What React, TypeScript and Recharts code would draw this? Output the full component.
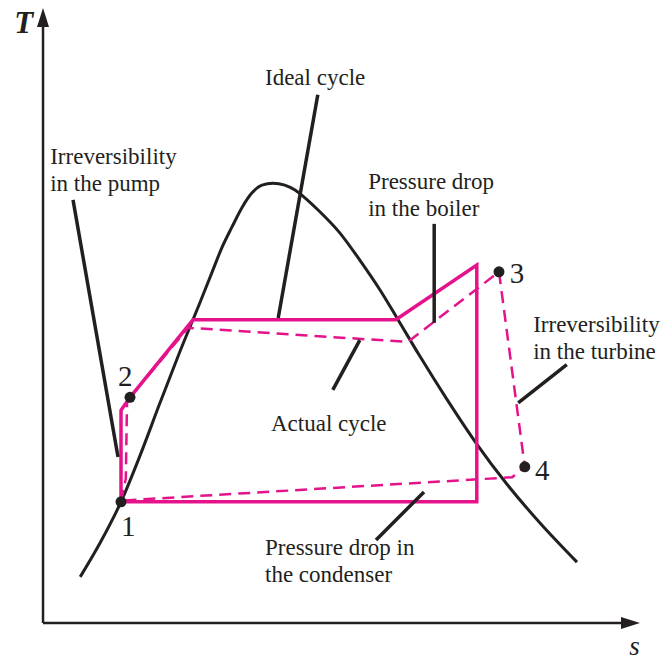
import { ComposedChart, Line, Scatter, XAxis, YAxis } from "recharts";

const PINK = "#e5138b";
const INK = "#231f20";
const SERIF = "'Liberation Serif', 'Times New Roman', serif";

type Pt = { s: number; T: number };

// whole svg is the plot area, so the domain runs a little past the drawn axes
const S_DOMAIN: [number, number] = [-0.717, 10.317];
const T_DOMAIN: [number, number] = [-0.618, 10.13];

// saturation dome
const domeCurve: Pt[] = [
  { s: 0.62, T: 0.75 },
  { s: 0.95, T: 1.3 },
  { s: 1.3, T: 1.97 },
  { s: 1.62, T: 2.73 },
  { s: 1.95, T: 3.58 },
  { s: 2.28, T: 4.41 },
  { s: 2.62, T: 5.22 },
  { s: 2.82, T: 5.71 },
  { s: 2.98, T: 6.1 },
  { s: 3.15, T: 6.44 },
  { s: 3.32, T: 6.76 },
  { s: 3.48, T: 6.99 },
  { s: 3.65, T: 7.12 },
  { s: 3.83, T: 7.15 },
  { s: 4.03, T: 7.12 },
  { s: 4.2, T: 7.04 },
  { s: 4.37, T: 6.91 },
  { s: 4.58, T: 6.72 },
  { s: 4.95, T: 6.34 },
  { s: 5.28, T: 5.9 },
  { s: 5.62, T: 5.41 },
  { s: 5.9, T: 4.96 },
  { s: 6.28, T: 4.34 },
  { s: 6.73, T: 3.64 },
  { s: 7.23, T: 2.91 },
  { s: 7.73, T: 2.26 },
  { s: 8.28, T: 1.63 },
  { s: 8.9, T: 0.99 },
];

const idealCycle: Pt[] = [
  { s: 1.3, T: 1.97 },
  { s: 1.3, T: 3.46 },
  { s: 1.45, T: 3.67 },
  { s: 2.5, T: 4.93 },
  { s: 5.88, T: 4.93 },
  { s: 7.23, T: 5.82 },
  { s: 7.23, T: 1.97 },
  { s: 1.3, T: 1.97 },
];

const actualCycle: Pt[] = [
  { s: 1.3, T: 1.97 },
  { s: 1.38, T: 2.35 },
  { s: 1.4, T: 3.58 },
  { s: 1.45, T: 3.67 },
  { s: 2.42, T: 4.8 },
  { s: 6.08, T: 4.57 },
  { s: 7.6, T: 5.71 },
  { s: 8.03, T: 2.54 },
  { s: 7.82, T: 2.37 },
  { s: 1.3, T: 1.99 },
];

const statePoints = [
  { s: 1.3, T: 1.97, name: "1" },
  { s: 1.45, T: 3.67, name: "2" },
  { s: 7.6, T: 5.71, name: "3" },
  { s: 8.03, T: 2.54, name: "4" },
];

const stateLabels = [
  { s: 1.3, T: 1.42, text: "1" },
  { s: 1.25, T: 3.85, text: "2" },
  { s: 7.78, T: 5.53, text: "3" },
  { s: 8.2, T: 2.33, text: "4" },
];

const leaders: Pt[][] = [
  [{ s: 4.58, T: 8.59 }, { s: 3.92, T: 4.96 }],
  [{ s: 0.5, T: 6.88 }, { s: 1.25, T: 2.7 }],
  [{ s: 6.52, T: 6.49 }, { s: 6.52, T: 4.88 }],
  [{ s: 4.83, T: 3.79 }, { s: 5.28, T: 4.6 }],
  [{ s: 8.73, T: 4.2 }, { s: 7.92, T: 3.58 }],
  [{ s: 5.55, T: 1.35 }, { s: 6.35, T: 2.13 }],
];

const notes = [
  { s: 3.7, T: 8.75, lines: ["Ideal cycle"] },
  { s: 0.12, T: 7.46, lines: ["Irreversibility", "in the pump"] },
  { s: 5.42, T: 7.06, lines: ["Pressure drop", "in the boiler"] },
  { s: 3.8, T: 3.12, lines: ["Actual cycle"] },
  { s: 8.17, T: 4.73, lines: ["Irreversibility", "in the turbine"] },
  { s: 3.7, T: 1.11, lines: ["Pressure drop in", "the condenser"] },
];

const sAxisLine: Pt[] = [{ s: 0, T: 0 }, { s: 9.7, T: 0 }];
const tAxisLine: Pt[] = [{ s: 0, T: 0 }, { s: 0, T: 9.7 }];
const sArrow = [{ s: 9.95, T: 0 }];
const tArrow = [{ s: 0, T: 10 }];
const tTitle = [{ s: -0.48, T: 9.59, text: "T" }];
const sTitle = [{ s: 9.77, T: -0.52, text: "s" }];

function NoteText(props: any) {
  const { cx, cy, payload } = props;
  return (
    <text x={cx} y={cy} fontFamily={SERIF} fontSize={23} fill={INK}>
      {payload.lines.map((line: string, i: number) => (
        <tspan key={i} x={cx} dy={i === 0 ? 0 : 27}>
          {line}
        </tspan>
      ))}
    </text>
  );
}

function StateText(props: any) {
  const { cx, cy, payload } = props;
  return (
    <text x={cx} y={cy} fontFamily={SERIF} fontSize={29} fill={INK}>
      {payload.text}
    </text>
  );
}

function StateDot(props: any) {
  return <circle cx={props.cx} cy={props.cy} r={5.5} fill={INK} />;
}

function ArrowRight(props: any) {
  const { cx, cy } = props;
  return <polygon points={`${cx},${cy} ${cx - 19},${cy - 6} ${cx - 19},${cy + 6}`} fill={INK} />;
}

function ArrowUp(props: any) {
  const { cx, cy } = props;
  return <polygon points={`${cx},${cy} ${cx - 6},${cy + 19} ${cx + 6},${cy + 19}`} fill={INK} />;
}

function TTitle(props: any) {
  return (
    <text x={props.cx} y={props.cy} fontFamily={SERIF} fontSize={31} fontWeight="bold" fontStyle="italic" fill={INK}>
      {props.payload.text}
    </text>
  );
}

function STitle(props: any) {
  return (
    <text x={props.cx} y={props.cy} fontFamily={SERIF} fontSize={27} fontStyle="italic" fill={INK}>
      {props.payload.text}
    </text>
  );
}

export default function App() {
  return (
    <div style={{ position: "fixed", left: 0, top: 0, width: 662, height: 661, background: "#fff" }}>
      <ComposedChart width={662} height={661} margin={{ top: 0, right: 0, bottom: 0, left: 0 }}>
        <XAxis type="number" dataKey="s" domain={S_DOMAIN} allowDataOverflow hide />
        <YAxis type="number" dataKey="T" domain={T_DOMAIN} allowDataOverflow hide />

        <Line data={sAxisLine} dataKey="T" stroke={INK} strokeWidth={2.5} dot={false} activeDot={false} isAnimationActive={false} />
        <Line data={tAxisLine} dataKey="T" stroke={INK} strokeWidth={2.5} dot={false} activeDot={false} isAnimationActive={false} />

        <Line data={domeCurve} dataKey="T" type="monotoneX" stroke={INK} strokeWidth={3} dot={false} activeDot={false} isAnimationActive={false} />

        <Line data={idealCycle} dataKey="T" stroke={PINK} strokeWidth={3.5} dot={false} activeDot={false} isAnimationActive={false} />
        <Line data={actualCycle} dataKey="T" stroke={PINK} strokeWidth={2.5} strokeDasharray="12 7" dot={false} activeDot={false} isAnimationActive={false} />

        {leaders.map((seg, i) => (
          <Line key={i} data={seg} dataKey="T" stroke={INK} strokeWidth={3.5} dot={false} activeDot={false} isAnimationActive={false} />
        ))}

        <Scatter data={statePoints} dataKey="T" shape={StateDot} isAnimationActive={false} />
        <Scatter data={stateLabels} dataKey="T" shape={StateText} isAnimationActive={false} />
        <Scatter data={notes} dataKey="T" shape={NoteText} isAnimationActive={false} />
        <Scatter data={sArrow} dataKey="T" shape={ArrowRight} isAnimationActive={false} />
        <Scatter data={tArrow} dataKey="T" shape={ArrowUp} isAnimationActive={false} />
        <Scatter data={tTitle} dataKey="T" shape={TTitle} isAnimationActive={false} />
        <Scatter data={sTitle} dataKey="T" shape={STitle} isAnimationActive={false} />
      </ComposedChart>
    </div>
  );
}
